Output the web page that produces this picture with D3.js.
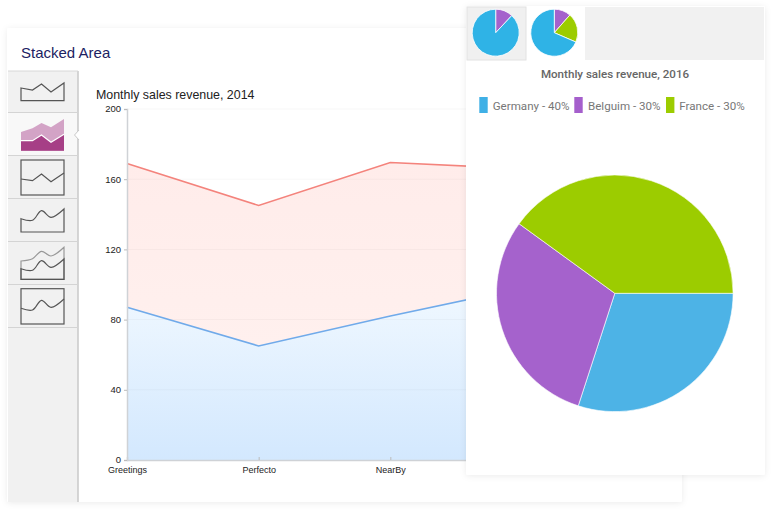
<!DOCTYPE html>
<html><head><meta charset="utf-8">
<script src="https://cdn.jsdelivr.net/npm/d3@7"></script>
<style>html,body{margin:0;padding:0;background:#fff;overflow:hidden}svg{display:block}</style>
</head><body><svg id="c" width="771" height="512"></svg>
<script>
const categories = ["Greetings","Perfecto","NearBy","Alpha"];
const lowerValues = [87,65,82,98];
const upperValues = [169,145,169.5,166];
const yTicks = [0,40,80,120,160,200];
const pieLabels = ["Germany - 40%","Belguim - 30%","France - 30%"];
const pieValues = [30,30,40];
const pieColors = ["#4db3e6","#a562cc","#9ccc00"];
const legendColors = ["#3fb0e6","#a55fcc","#9ccc00"];
const thumbA = [88,12];
const thumbB = [68.5,11.5,20];
const thumbSteps = [0,11.5,20.5,30,43];
const sparkArea = [12.6,10.6,16.6,8.6,17.6];
const sparkLine = [16,14.3,21,13.3,22];
const stackUpper = [18.7,22.4,27.7,23.4,31.7];
const stackLower = [10,10,15.7,8.4,16.4];
const smoothArea = [13.3,11.7,21.3,14.7,23];
const smoothUpper = [18.3,20.6,28,23.3,32];
const smoothLower = [10.6,9,18.6,12,20.3];
const smoothLine = [15.7,14,23.7,16.7,25];

const svg = d3.select("#c");
const defs = svg.append("defs");
const sh = defs.append("filter").attr("id","sh").attr("x","-5%").attr("y","-5%").attr("width","110%").attr("height","110%");
sh.append("feDropShadow").attr("dx",0).attr("dy",1).attr("stdDeviation",3).attr("flood-color","#000").attr("flood-opacity",0.08);
function grad(id,a,b){const g=defs.append("linearGradient").attr("id",id).attr("x1",0).attr("y1",0).attr("x2",0).attr("y2",1);
 g.append("stop").attr("offset",0).attr("stop-color",a);g.append("stop").attr("offset",1).attr("stop-color",b);}
grad("gb","#f0f8ff","#d3e8fe");grad("gr","#ffecea","#fff0ee");

// main panel
svg.append("rect").attr("x",7).attr("y",28).attr("width",675).attr("height",474).attr("rx",2).attr("fill","#fff").attr("filter","url(#sh)");
svg.append("text").attr("x",21).attr("y",58).attr("font-family","Liberation Sans").attr("font-size",15).attr("fill","#1c2262").text("Stacked Area");
svg.append("rect").attr("x",8).attr("y",71).attr("width",70).attr("height",431).attr("fill","#f1f1f1");
svg.append("line").attr("x1",78).attr("x2",78).attr("y1",71).attr("y2",502).attr("stroke","#c8c8c8").attr("stroke-width",1.5);
svg.append("line").attr("x1",8).attr("x2",78).attr("y1",71).attr("y2",71).attr("stroke","#d8d8d8");

// sidebar thumbnails
const side = svg.append("g");
side.append("rect").attr("x",8).attr("y",113).attr("width",69).attr("height",42).attr("fill","#f8f8f8");
[112.5,155.5,198.5,241.5,284.5,327.5].forEach(t=>side.append("line").attr("x1",8).attr("x2",78).attr("y1",t).attr("y2",t).attr("stroke","#d4d4d4"));
side.append("path").attr("d",d3.line()([[79,130],[74.5,135],[79,140]])).attr("fill","#fff").attr("stroke","#c8c8c8");
const tx = d3.scaleLinear().domain([0,43]).range([21,64]);
const dark = "#555", sw = 1.2;
const hy = b => d3.scaleLinear().domain([0,40]).range([b,b-40]);
const ar = (b,c) => d3.area().x((d,i)=>tx(thumbSteps[i])).y0(hy(b)(0)).y1(d=>hy(b)(d)).curve(c||d3.curveLinear);
const ln = (b,c) => d3.line().x((d,i)=>tx(thumbSteps[i])).y(d=>hy(b)(d)).curve(c||d3.curveLinear);
const strokePath = (d,col) => side.append("path").attr("d",d).attr("fill","none").attr("stroke",col||dark).attr("stroke-width",sw);
const open = (vals,b,c) => ln(b,c)(vals)+`L${tx(43)},${hy(b)(0)}L${tx(0)},${hy(b)(0)}Z`;
strokePath(open(sparkArea,100.6));
side.append("path").attr("d",ar(150.7)(stackUpper)).attr("fill","#d3a3c6");
side.append("path").attr("d",ar(150.7)(stackLower)).attr("fill","#a63f86");
strokePath(ln(150.7)(stackLower),"#fff");
side.append("rect").attr("x",21).attr("y",160).attr("width",43).attr("height",35).attr("fill","none").attr("stroke",dark).attr("stroke-width",sw);
strokePath(ln(195)(sparkLine));
strokePath(open(smoothArea,232,d3.curveCatmullRom));
strokePath(open(smoothUpper,279.3,d3.curveCatmullRom),"#999");
strokePath(open(smoothLower,279.3,d3.curveCatmullRom));
side.append("rect").attr("x",21).attr("y",288.7).attr("width",43).attr("height",35.3).attr("fill","none").attr("stroke",dark).attr("stroke-width",sw);
strokePath(ln(324,d3.curveCatmullRom)(smoothLine));

// chart
svg.append("text").attr("x",96).attr("y",99).attr("font-family","Liberation Sans").attr("font-size",12.4).attr("fill","#222").text("Monthly sales revenue, 2014");
const x = d3.scalePoint().domain(categories).range([127,522]);
const y = d3.scaleLinear().domain([0,200]).range([460,109]);
const plot = svg.append("g");
plot.append("path").attr("d",d3.area().x((d,i)=>x(categories[i])).y0((d,i)=>y(lowerValues[i])).y1(d=>y(d))(upperValues)).attr("fill","url(#gr)");
plot.append("path").attr("d",d3.area().x((d,i)=>x(categories[i])).y0(y(0)).y1(d=>y(d))(lowerValues)).attr("fill","url(#gb)");
yTicks.slice(1).forEach(t=>plot.append("line").attr("x1",127).attr("x2",650).attr("y1",y(t)).attr("y2",y(t)).attr("stroke","#000").attr("stroke-opacity",0.03));
plot.append("path").attr("d",d3.line().x((d,i)=>x(categories[i])).y(d=>y(d))(upperValues)).attr("fill","none").attr("stroke","#f4837c").attr("stroke-width",1.6);
plot.append("path").attr("d",d3.line().x((d,i)=>x(categories[i])).y(d=>y(d))(lowerValues)).attr("fill","none").attr("stroke","#70aaea").attr("stroke-width",1.6);
const ax = svg.append("g").attr("transform","translate(0,460)").call(d3.axisBottom(x).tickSize(-3).tickPadding(8));
const ay = svg.append("g").attr("transform","translate(127,0)").call(d3.axisLeft(y).tickValues(yTicks).tickSize(3).tickPadding(3));
[ax,ay].forEach(a=>{a.selectAll("path").attr("stroke","#cfd2d6").attr("stroke-width",1.5);a.selectAll("line").attr("stroke","#bbb");a.selectAll("text").attr("font-family","Liberation Sans").attr("fill","#222");});
ax.selectAll("text").attr("font-size",9).attr("dy","0.55em");
ay.selectAll("text").attr("font-size",9.5).attr("dy","0.3em");

// right panel
svg.append("rect").attr("x",466).attr("y",6).attr("width",299).attr("height",469).attr("rx",2).attr("fill","#fff").attr("filter","url(#sh)");
svg.append("rect").attr("x",585).attr("y",7).attr("width",179).attr("height",53).attr("fill","#f1f1f1");
svg.append("rect").attr("x",467).attr("y",7).attr("width",59).attr("height",53).attr("fill","#f0f0f0").attr("stroke","#e2e2e2");
function thumbPie(vals,cx,colors){
  const order=vals.length==2?[1,0]:[1,2,0];
  const ordered=d3.pie().sort(null).value(d=>d)(order.map(i=>vals[i]));
  svg.append("g").attr("transform",`translate(${cx},32.7)`).selectAll("path").data(ordered).join("path")
    .attr("d",d3.arc().innerRadius(0).outerRadius(23.5)).attr("fill",(d,i)=>colors[order[i]]).attr("stroke","#fff").attr("stroke-width",0.8);
}
thumbPie(thumbA,495.7,["#2fb3e6","#a562cc"]);
thumbPie(thumbB,554.3,["#2fb3e6","#a562cc","#9ccc00"]);
svg.append("text").attr("x",615).attr("y",78).attr("text-anchor","middle").attr("font-family","Roboto").attr("font-weight",500).attr("font-size",11.6).attr("fill","#666").text("Monthly sales revenue, 2016");

const legX=[479.3,574.3,666], legT=[492.7,588,679.3];
pieLabels.forEach((l,i)=>{
  svg.append("rect").attr("x",legX[i]).attr("y",97).attr("width",8.4).attr("height",16).attr("fill",legendColors[i]);
  svg.append("text").attr("x",legT[i]).attr("y",110).attr("font-family","Roboto").attr("font-size",11.6).attr("fill","#777").text(l);
});
const pieArcs=d3.pie().sort(null).startAngle(Math.PI/2).endAngle(Math.PI*2.5).value(d=>d)(pieValues);
svg.append("g").attr("transform","translate(614.8,293.3)").selectAll("path").data(pieArcs).join("path")
 .attr("d",d3.arc().innerRadius(0).outerRadius(118.3)).attr("fill",(d,i)=>pieColors[i]).attr("stroke","#fff").attr("stroke-width",0.6);
</script></body></html>
